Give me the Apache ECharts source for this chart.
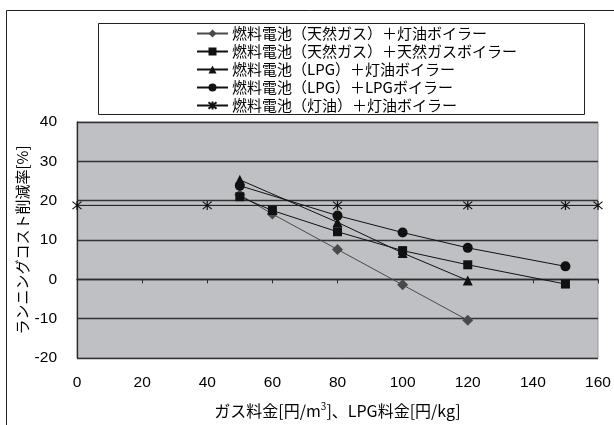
<!DOCTYPE html>
<html>
<head>
<meta charset="utf-8">
<script src="https://cdn.jsdelivr.net/npm/echarts@6/dist/echarts.min.js"></script>
<style>
  html, body { margin: 0; padding: 0; background: #fff; }
  #chart { width: 614px; height: 425px; }
</style>
</head>
<body>
<div id="chart"></div>
<script>
// Fuel price (x) vs running-cost reduction rate (y, %)
const seriesNames = [
  '燃料電池（天然ガス）＋灯油ボイラー',
  '燃料電池（天然ガス）＋天然ガスボイラー',
  '燃料電池（LPG）＋灯油ボイラー',
  '燃料電池（LPG）＋LPGボイラー',
  '燃料電池（灯油）＋灯油ボイラー'
];

const gasKeroseneX = [50, 60, 80, 100, 120];
const gasKeroseneY = [21.5, 16.6, 7.6, -1.4, -10.4];

const gasGasX = [50, 60, 80, 100, 120, 150];
const gasGasY = [21.0, 17.5, 12.1, 7.3, 3.7, -1.2];

const lpgKeroseneX = [50, 80, 100, 120];
const lpgKeroseneY = [25.3, 14.5, 6.7, -0.3];

const lpgLpgX = [50, 80, 100, 120, 150];
const lpgLpgY = [23.8, 16.2, 11.9, 8.0, 3.3];

const keroseneX = [0, 40, 80, 120, 150, 160];
const keroseneY = [18.8, 18.8, 18.8, 18.8, 18.8, 18.8];

const xTicks = [0, 20, 40, 60, 80, 100, 120, 140, 160];
const yTicks = [-20, -10, 0, 10, 20, 30, 40];

const pairs = (xs, ys) => xs.map((x, i) => [x, ys[i]]);

const asterisk = 'path://M0,0L10,10M10,0L0,10M5,-1L5,11';

function lineSeries(name, data, symbol, size, color) {
  return {
    name: name,
    type: 'line',
    data: data,
    symbol: symbol,
    symbolSize: size,
    showSymbol: true,
    lineStyle: { color: color, width: 1 },
    itemStyle: { color: color, borderColor: color, borderWidth: symbol === asterisk ? 1.2 : 0 },
    emphasis: { disabled: true },
    animation: false,
    z: 3
  };
}

const chart = echarts.init(document.getElementById('chart'), null, { renderer: 'canvas' });

chart.setOption({
  backgroundColor: '#ffffff',
  animation: false,
  textStyle: { fontFamily: '"Noto Sans CJK JP", "Liberation Sans", sans-serif' },
  graphic: [
    // outer frame
    { type: 'rect', shape: { x: 6.5, y: 10.5, width: 700, height: 500 },
      style: { fill: 'none', stroke: '#222', lineWidth: 1 }, z: 0 },
    // legend frame
    { type: 'rect', shape: { x: 98.5, y: 23.5, width: 486, height: 91 },
      style: { fill: '#fff', stroke: '#222', lineWidth: 1 }, z: 0 }
  ],
  grid: {
    left: 77, top: 122, right: 16, bottom: 67,
    show: true,
    backgroundColor: '#bfc0c4',
    borderColor: '#9a9a9a',
    borderWidth: 1
  },
  legend: {
    orient: 'vertical',
    left: 196,
    top: 25,
    itemWidth: 31,
    itemHeight: 10,
    itemGap: 1,
    padding: 0,
    selectedMode: false,
    data: seriesNames,
    textStyle: {
      fontFamily: '"Noto Sans CJK JP", sans-serif',
      fontSize: 15,
      color: '#000',
      lineHeight: 17,
      padding: [0, 0, 0, -1]
    }
  },
  xAxis: [
    {
      type: 'value',
      min: 0, max: 160, interval: 20,
      axisLine: { show: false, onZero: false },
      axisTick: { show: false },
      splitLine: { show: false },
      axisLabel: {
        color: '#000', fontSize: 15.5, margin: 17,
        fontFamily: '"Liberation Sans", Arial, sans-serif'
      },
      name: 'ガス料金[円/m{sup|3}]、LPG料金[円/kg]',
      nameLocation: 'middle',
      nameGap: 43,
      nameMoveOverlap: false,
      nameTextStyle: {
        color: '#000', fontSize: 16,
        fontFamily: '"Noto Sans CJK JP", sans-serif',
        rich: {
          sup: { fontSize: 10, verticalAlign: 'top', padding: [0, 0, 9, 0],
                 fontFamily: '"Noto Sans CJK JP", sans-serif' }
        }
      }
    },
    {
      type: 'value',
      min: 0, max: 160, interval: 20,
      axisLine: { show: true, onZero: true, lineStyle: { color: '#2a2a2a', width: 1.3 } },
      axisTick: { show: true, inside: true, length: 4, lineStyle: { color: '#2a2a2a' } },
      axisLabel: { show: false },
      splitLine: { show: false }
    }
  ],
  yAxis: {
    type: 'value',
    min: -20, max: 40, interval: 10,
    axisLine: { show: true, onZero: false, lineStyle: { color: '#2a2a2a', width: 1.3 } },
    axisTick: { show: false },
    splitLine: { show: true, lineStyle: { color: '#333', width: 1.4 } },
    axisLabel: {
      color: '#000', fontSize: 15.5, margin: 20,
      fontFamily: '"Liberation Sans", Arial, sans-serif'
    },
    name: 'ランニングコスト削減率[%]',
    nameLocation: 'middle',
    nameGap: 47,
    nameMoveOverlap: false,
    nameRotate: 90,
    nameTextStyle: {
      color: '#000', fontSize: 15,
      fontFamily: '"Noto Sans CJK JP", sans-serif'
    }
  },
  series: [
    lineSeries(seriesNames[0], pairs(gasKeroseneX, gasKeroseneY), 'diamond', 11, '#4a4a4a'),
    lineSeries(seriesNames[1], pairs(gasGasX, gasGasY), 'rect', 9, '#111'),
    lineSeries(seriesNames[2], pairs(lpgKeroseneX, lpgKeroseneY), 'triangle', 10, '#111'),
    lineSeries(seriesNames[3], pairs(lpgLpgX, lpgLpgY), 'circle', 10, '#111'),
    lineSeries(seriesNames[4], pairs(keroseneX, keroseneY), asterisk, 9, '#111')
  ]
});
</script>
</body>
</html>
